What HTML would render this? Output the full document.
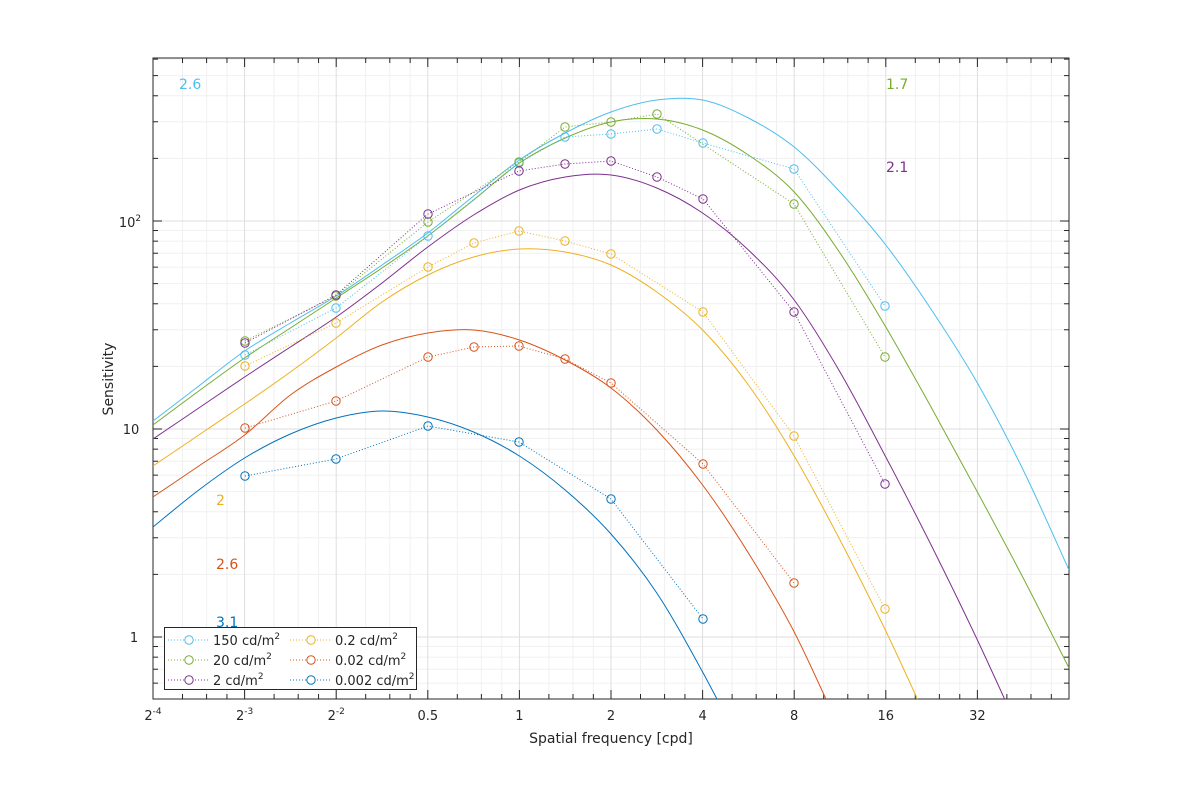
<!DOCTYPE html>
<html><head><meta charset="utf-8"><style>
html,body{margin:0;padding:0;background:#fff;}
svg{display:block;font-family:"DejaVu Sans","Liberation Sans",sans-serif;}
</style></head><body>
<svg id="s" width="1181" height="787" xmlns="http://www.w3.org/2000/svg"></svg>
<script>
const S=document.getElementById('s');let h='';
const X0=153,X1=1069,Y0=58,Y1=699,PX=91.6,PD=208,Y10=429;
const xp=f=>X0+(Math.log2(f)+4)*PX, yp=v=>Y10-(Math.log10(v)-1)*PD;
h+=`<rect x="0" y="0" width="1181" height="787" fill="#fff"/>`;
for(let k=-4;k<6;k++)for(const m of [1.25,1.5,1.75]){const x=xp(Math.pow(2,k)*m);h+=`<line x1="${x}" y1="${Y0}" x2="${x}" y2="${Y1}" stroke="#f0f0f0" stroke-width="1"/>`;}
for(let d=-1;d<3;d++)for(let m=2;m<10;m++){const y=yp(Math.pow(10,d)*m);if(y>Y0&&y<Y1)h+=`<line x1="${X0}" y1="${y}" x2="${X1}" y2="${y}" stroke="#f0f0f0" stroke-width="1"/>`;}
for(let k=-3;k<6;k++){const x=xp(Math.pow(2,k));h+=`<line x1="${x}" y1="${Y0}" x2="${x}" y2="${Y1}" stroke="#dedede"/>`;}
for(const v of [1,10,100]){const y=yp(v);h+=`<line x1="${X0}" y1="${y}" x2="${X1}" y2="${y}" stroke="#dedede"/>`;}
for(let k=-4;k<=6;k++){const x=xp(Math.pow(2,k));h+=`<line x1="${x}" y1="${Y1}" x2="${x}" y2="${Y1-9}" stroke="#262626"/><line x1="${x}" y1="${Y0}" x2="${x}" y2="${Y0+9}" stroke="#262626"/>`;
 if(k<6)for(const m of [1.25,1.5,1.75]){const x2=xp(Math.pow(2,k)*m);h+=`<line x1="${x2}" y1="${Y1}" x2="${x2}" y2="${Y1-5}" stroke="#262626"/><line x1="${x2}" y1="${Y0}" x2="${x2}" y2="${Y0+5}" stroke="#262626"/>`;}}
for(let d=-1;d<3;d++)for(let m=1;m<10;m++){const y=yp(Math.pow(10,d)*m);if(y>Y0&&y<Y1){const L=m==1?9:5;h+=`<line x1="${X0}" y1="${y}" x2="${X0+L}" y2="${y}" stroke="#262626"/><line x1="${X1}" y1="${y}" x2="${X1-L}" y2="${y}" stroke="#262626"/>`;}}
h+=`<rect x="${X0}" y="${Y0}" width="${X1-X0}" height="${Y1-Y0}" fill="none" stroke="#262626"/>`;
const xl=[['2','-4'],['2','-3'],['2','-2'],['0.5'],['1'],['2'],['4'],['8'],['16'],['32']];
xl.forEach((l,i)=>{const x=xp(Math.pow(2,i-4));if(l.length==2)h+=`<text x="${x}" y="720" font-size="13" fill="#262626" text-anchor="middle">${l[0]}<tspan dy="-6" font-size="9">${l[1]}</tspan></text>`;else h+=`<text x="${x}" y="720" font-size="13" fill="#262626" text-anchor="middle">${l[0]}</text>`;});
h+=`<text x="134" y="642" font-size="13" fill="#262626" text-anchor="middle">1</text><text x="131" y="434" font-size="13" fill="#262626" text-anchor="middle">10</text><text x="130" y="227" font-size="13" fill="#262626" text-anchor="middle">10<tspan dy="-6" font-size="9">2</tspan></text>`;
h+=`<text x="611" y="743" font-size="14" fill="#262626" text-anchor="middle">Spatial frequency [cpd]</text>`;
h+=`<text transform="translate(113,379) rotate(-90)" font-size="14" fill="#262626" text-anchor="middle">Sensitivity</text>`;
const C=['#4DBEEE','#77AC30','#7E2F8E','#EDB120','#D95319','#0072BD'];
const ys=[
[421,386,351,323,296,265,233,196,160,133,112,100,100,118,147,192,245,310,383,470,570],
[425,391,358,328,298,268,236,200,163,138,122,119,130,155,192,253,327,408,492,578,668],
[439,408,377,347,317,283,247,215,190,177,175,188,213,250,300,372,457,546,640,740],
[466,435,404,372,338,302,275,257,249,252,265,292,330,385,456,540,631,730],
[497,466,435,395,367,345,333,330,340,360,388,430,485,553,632,730],
[527,490,458,434,418,411,417,432,456,490,534,593,672,760]];
const curves=ys.map(a=>a.map((y,i)=>[153+i*45.8,y]));
const pts=[
[[245,355],[336,308],[428,236],[519,163],[565,137],[611,134],[657,129],[703,143],[794,169],[885,306]],
[[245,341],[336,296],[428,222],[519,162],[565,127],[611,122],[657,114],[794,204],[885,357]],
[[245,343],[336,295],[428,214],[519,171],[565,164],[611,161],[657,177],[703,199],[794,312],[885,484]],
[[245,366],[336,323],[428,267],[474,243],[519,231],[565,241],[611,254],[703,312],[794,436],[885,609]],
[[245,428],[336,401],[428,357],[474,347],[519,346],[565,359],[611,383],[703,464],[794,583]],
[[245,476],[336,459],[428,426],[519,442],[611,499],[703,619]]];
function smooth(p){let d=`M${p[0][0]},${p[0][1]}`;for(let i=0;i<p.length-1;i++){const a=p[i-1]||p[i],b=p[i],c=p[i+1],e=p[i+2]||c;d+=` C${b[0]+(c[0]-a[0])/6},${b[1]+(c[1]-a[1])/6} ${c[0]-(e[0]-b[0])/6},${c[1]-(e[1]-b[1])/6} ${c[0]},${c[1]}`;}return d;}
h+=`<defs><clipPath id="cp"><rect x="${X0}" y="${Y0}" width="${X1-X0}" height="${Y1-Y0}"/></clipPath></defs><g clip-path="url(#cp)">`;
curves.forEach((c,i)=>{h+=`<path d="${smooth(c)}" fill="none" stroke="${C[i]}" stroke-width="1"/>`;});
pts.forEach((p,i)=>{h+=`<polyline points="${p.map(q=>q.join(',')).join(' ')}" fill="none" stroke="${C[i]}" stroke-dasharray="1,2"/>`;p.forEach(q=>h+=`<circle cx="${q[0]}" cy="${q[1]}" r="4.2" fill="none" stroke="${C[i]}"/>`);});
h+=`</g>`;
const ann=[['2.6',179,89,0],['1.7',886,89,1],['2.1',886,172,2],['2',216,505,3],['2.6',216,569,4],['3.1',216,627,5]];
ann.forEach(a=>h+=`<text x="${a[1]}" y="${a[2]}" font-size="14" fill="${C[a[3]]}">${a[0]}</text>`);
h+=`<rect x="164.5" y="627.5" width="252" height="62" fill="#fff" stroke="#262626"/>`;
const lg=['150','20','2','0.2','0.02','0.002'];
lg.forEach((t,i)=>{const col=i<3?0:1,row=i%3;const x=col?290:168,y=640+row*20;
h+=`<line x1="${x}" y1="${y}" x2="${x+42}" y2="${y}" stroke="${C[i]}" stroke-dasharray="1,2"/><circle cx="${x+21}" cy="${y}" r="4.2" fill="#fff" stroke="${C[i]}"/>`;
h+=`<text x="${x+45}" y="${y+5}" font-size="13" fill="#262626">${t} cd/m<tspan dy="-6" font-size="9">2</tspan></text>`;});
S.innerHTML=h;
</script>
</body></html>
